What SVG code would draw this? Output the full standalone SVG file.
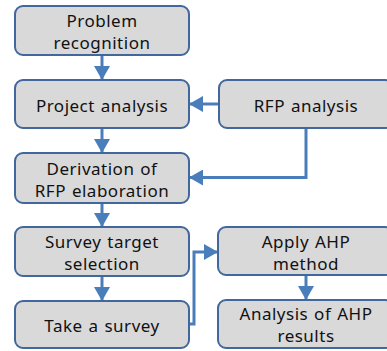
<svg xmlns="http://www.w3.org/2000/svg" width="387" height="351" viewBox="0 0 387 351">
  <style>
    .box { fill: #d9d9d9; stroke: #41679c; stroke-width: 2; }
    .lbl { font-family: "Noto Sans", "Liberation Sans", sans-serif; font-size: 17px; letter-spacing: 0.5px; word-spacing: 1px; fill: #111; text-anchor: middle; }
    .conn { fill: none; stroke: #4a7ebb; stroke-width: 3; }
  </style>
  <defs>
    <marker id="head" markerUnits="userSpaceOnUse" viewBox="0 0 14 16" refX="13" refY="8" markerWidth="14" markerHeight="16" orient="auto">
      <path d="M0,0 L14,8 L0,16 z" fill="#4a7ebb"/>
    </marker>
  </defs>
  <rect width="387" height="351" fill="#ffffff"/>

  <g id="connectors">
    <path class="conn" d="M102,55 L102,79" marker-end="url(#head)"/>
    <path class="conn" d="M102,128 L102,152" marker-end="url(#head)"/>
    <path class="conn" d="M102,203 L102,226" marker-end="url(#head)"/>
    <path class="conn" d="M102,276 L102,300" marker-end="url(#head)"/>
    <path class="conn" d="M219,104 L190,104" marker-end="url(#head)"/>
    <path class="conn" d="M306,128 L306,177.5 L190,177.5" marker-end="url(#head)"/>
    <path class="conn" d="M189,324 L194,324 L194,252 L217,252" marker-end="url(#head)"/>
    <path class="conn" d="M306,275 L306,299" marker-end="url(#head)"/>
  </g>

  <g id="problem-recognition">
    <rect class="box" x="15" y="6" width="174" height="49" rx="8"/>
    <text class="lbl" x="102" y="27">Problem</text>
    <text class="lbl" x="102" y="49">recognition</text>
  </g>
  <g id="project-analysis">
    <rect class="box" x="15" y="80" width="174" height="48" rx="8"/>
    <text class="lbl" x="102" y="112">Project analysis</text>
  </g>
  <g id="rfp-analysis">
    <rect class="box" x="219" y="80" width="174" height="48" rx="8"/>
    <text class="lbl" x="306" y="112">RFP analysis</text>
  </g>
  <g id="derivation">
    <rect class="box" x="15" y="153" width="174" height="50" rx="8"/>
    <text class="lbl" x="102" y="175">Derivation of</text>
    <text class="lbl" x="102" y="197">RFP elaboration</text>
  </g>
  <g id="survey-target">
    <rect class="box" x="15" y="227" width="174" height="49" rx="8"/>
    <text class="lbl" x="102" y="248">Survey target</text>
    <text class="lbl" x="102" y="270">selection</text>
  </g>
  <g id="take-survey">
    <rect class="box" x="15" y="301" width="174" height="47" rx="8"/>
    <text class="lbl" x="102" y="332">Take a survey</text>
  </g>
  <g id="apply-ahp">
    <rect class="box" x="218" y="227" width="175" height="48" rx="8"/>
    <text class="lbl" x="306" y="248">Apply AHP</text>
    <text class="lbl" x="306" y="270">method</text>
  </g>
  <g id="ahp-results">
    <rect class="box" x="218" y="300" width="175" height="48" rx="8"/>
    <text class="lbl" x="306" y="320">Analysis of AHP</text>
    <text class="lbl" x="306" y="342">results</text>
  </g>
</svg>
